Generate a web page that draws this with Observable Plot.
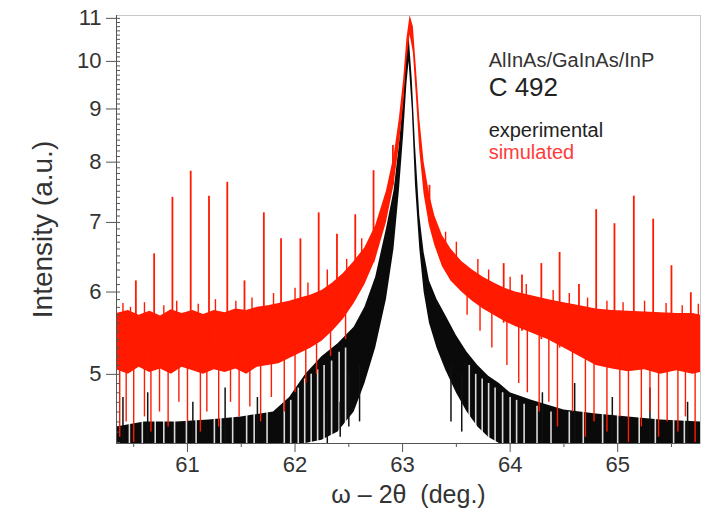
<!DOCTYPE html>
<html><head><meta charset="utf-8">
<script src="https://cdn.jsdelivr.net/npm/d3@7"></script>
<script src="https://cdn.jsdelivr.net/npm/@observablehq/plot@0.6"></script>
<style>
body{margin:0;background:#fff;}
#chart{width:708px;height:521px;}
</style></head><body><div id="chart"></div>
<script>
// ---- axis ticks ----
const xTicks = [61, 62, 63, 64, 65];
const xMinor = [60.5, 61.5, 62.5, 63.5, 64.5, 65.5];
const yTicks = [5, 6, 7, 8, 9, 10, 11];
const yMinor = d3.range(4.3, 11.05, 0.1);

// ---- simulated (red) dense noise band: lower / upper envelope ----
const redX  = [60.34,60.45,60.55,60.65,60.75,60.85,60.95,61.05,61.15,61.25,61.35,61.45,61.55,61.65,61.75,61.85,61.95,62.05,62.15,62.25,62.35,62.45,62.55,62.65,62.75,62.85,62.92,62.97,63.01,63.04,63.07,63.10,63.13,63.16,63.20,63.25,63.30,63.37,63.45,63.55,63.65,63.75,63.85,63.95,64.05,64.2,64.35,64.5,64.65,64.8,64.95,65.1,65.25,65.4,65.55,65.7,65.77];
const redHi = [5.72,5.76,5.70,5.75,5.69,5.77,5.72,5.76,5.71,5.76,5.73,5.78,5.76,5.80,5.82,5.85,5.88,5.92,5.96,6.02,6.12,6.25,6.42,6.62,6.95,7.5,8.1,8.8,9.6,10.5,11.07,10.8,9.8,8.8,8.0,7.45,7.1,6.8,6.6,6.42,6.3,6.2,6.12,6.05,6.0,5.95,5.9,5.86,5.82,5.78,5.76,5.75,5.74,5.73,5.72,5.72,5.70];
const redLo = [5.05,5.0,5.08,5.02,5.06,5.0,5.08,5.04,5.0,5.05,5.02,5.06,5.0,5.08,5.1,5.12,5.18,5.24,5.3,5.38,5.5,5.65,5.85,6.1,6.45,7.0,7.6,8.3,9.1,10.0,10.6,10.2,9.2,8.2,7.45,6.95,6.65,6.35,6.15,6.0,5.88,5.78,5.7,5.62,5.56,5.48,5.4,5.3,5.2,5.1,5.06,5.03,5.05,5.0,5.04,5.0,5.02];

// ---- simulated satellite peaks ----
const redPeakX    = [60.52,60.69,60.86,61.03,61.20,61.37,61.53,61.71,61.87,62.05,62.22,62.39,62.56,62.73,62.91,63.25,63.94,64.11,64.29,64.46,64.64,64.80,64.97,65.15,65.33,65.50,65.68];
const redPeakY    = [6.15,6.53,7.40,7.84,7.42,7.65,6.15,7.15,6.75,6.75,7.15,6.82,7.12,7.85,8.3,7.6,6.39,6.23,6.39,6.55,6.1,7.2,6.98,7.42,7.05,6.36,5.99];
const redPeakBase = [5.3,5.3,5.3,5.3,5.3,5.3,5.3,5.3,5.3,5.3,5.4,5.6,5.9,6.4,7.6,7.0,5.6,5.5,5.4,5.3,5.3,5.3,5.3,5.3,5.3,5.3,5.3];

// ---- simulated noise: short upward spikes above the band ----
const redUpX    = [60.4,60.47,60.6,60.78,60.9,61.1,61.26,61.45,61.6,61.8,62.0,62.12,62.3,62.48,62.62,63.4,63.5,63.7,63.8,64.0,64.15,64.4,64.55,64.72,64.9,65.05,65.25,65.45,65.6,65.75];
const redUpBase = [5.6,5.6,5.6,5.6,5.6,5.6,5.6,5.6,5.6,5.7,5.8,5.85,6.0,6.15,6.4,6.6,6.45,6.2,6.1,5.95,5.85,5.8,5.75,5.7,5.65,5.6,5.6,5.6,5.6,5.6];
const redUpY    = [5.85,5.8,5.86,5.82,5.88,5.84,5.9,5.88,5.92,5.98,6.05,6.12,6.3,6.45,6.75,6.85,6.7,6.45,6.3,6.2,6.1,6.02,5.98,5.92,5.88,5.86,5.88,5.85,5.82,5.84];

// ---- simulated noise: downward dips below the band ----
const redDipX   = [60.37,60.43,60.5,60.6,60.66,60.74,60.82,60.92,61.0,61.12,61.18,61.29,61.4,61.48,61.58,61.68,61.78,61.9,62.0,62.1,62.2,62.33,62.47,63.6,63.72,63.83,63.97,64.08,64.16,64.27,64.36,64.44,64.58,64.7,64.78,64.9,65.02,65.1,65.22,65.3,65.38,65.46,65.56,65.63,65.72];
const redDipTop = [5.3,5.3,5.3,5.3,5.3,5.3,5.3,5.3,5.3,5.3,5.3,5.3,5.3,5.3,5.3,5.3,5.3,5.4,5.4,5.5,5.5,5.7,5.8,6.1,6.0,5.9,5.8,5.7,5.6,5.6,5.5,5.5,5.4,5.4,5.3,5.3,5.3,5.3,5.3,5.3,5.3,5.3,5.3,5.3,5.3];
const redDipY   = [4.35,4.5,4.3,4.55,4.4,4.6,4.45,4.7,4.5,4.4,4.6,4.45,4.7,4.55,4.65,4.5,4.75,4.6,4.8,4.9,5.0,5.2,5.4,5.7,5.5,5.3,5.1,4.9,4.8,4.6,4.7,4.45,4.6,4.35,4.5,4.4,4.55,4.3,4.45,4.6,4.35,4.5,4.4,4.55,4.3];

// ---- experimental (black) band: lower / upper envelope ----
const blackX  = [60.34,60.6,60.9,61.2,61.5,61.8,61.95,62.1,62.25,62.4,62.55,62.65,62.75,62.85,62.92,62.97,63.01,63.04,63.06,63.09,63.12,63.16,63.2,63.25,63.32,63.4,63.5,63.6,63.7,63.8,63.9,64.0,64.2,64.5,64.8,65.1,65.4,65.77];
const blackHi = [4.45,4.5,4.5,4.52,4.55,4.6,4.75,5.0,5.2,5.35,5.55,5.8,6.2,6.9,7.5,8.3,9.2,10.2,10.6,9.6,8.3,7.1,6.55,6.15,5.9,5.7,5.45,5.25,5.1,4.98,4.9,4.8,4.72,4.62,4.58,4.55,4.52,4.5];
const blackLo = [4.29,4.29,4.29,4.29,4.29,4.29,4.29,4.29,4.32,4.4,4.6,4.9,5.3,5.9,6.6,7.5,8.5,9.5,10.0,9.0,7.6,6.6,6.0,5.6,5.3,5.05,4.8,4.6,4.45,4.35,4.29,4.29,4.29,4.29,4.29,4.29,4.29,4.29];

// ---- experimental: white gaps in the noise ----
const gapX   = [60.46,60.58,60.7,60.78,60.88,60.99,61.08,61.25,61.31,61.42,61.55,61.62,61.74,61.9,61.96,62.03,62.09,62.15,62.21,62.27,62.34,62.41,62.47,63.62,63.68,63.74,63.8,63.86,63.93,64.0,64.06,64.13,64.25,64.38,64.55,64.68,64.86,65.0,65.2,65.35,65.52,65.62];
const gapTop = [4.6,4.6,4.6,4.6,4.6,4.6,4.6,4.6,4.6,4.6,4.6,4.62,4.65,4.7,4.72,4.85,4.95,5.0,5.05,5.1,5.15,5.25,5.3,5.1,5.0,4.95,4.9,4.85,4.8,4.75,4.72,4.68,4.66,4.6,4.6,4.6,4.6,4.6,4.6,4.6,4.6,4.6];

// ---- experimental: single noise strokes ----
const blackStrokeX   = [60.4,60.63,61.05,61.35,61.65,62.3,62.42,62.5,62.6,63.45,63.55,64.3,64.6,64.95,65.3,65.65];
const blackStrokeLo  = [4.29,4.29,4.29,4.29,4.29,4.29,4.35,4.45,4.5,4.5,4.4,4.29,4.29,4.29,4.29,4.29];
const blackStrokeHi  = [4.75,4.8,4.7,4.85,4.75,4.6,4.7,5.0,5.1,5.1,5.0,4.8,4.9,4.75,4.85,4.7];

// ---- annotation ----
const noteX = 63.8;
const noteLines = ["AlInAs/GaInAs/InP", "C 492", "experimental", "simulated"];
const noteY = [10.02, 9.44, 8.58, 8.17];
const noteSize = [20, 26, 20, 20];
const noteColor = ["#333", "#222", "#222", "#ff3b3b"];

const RED = "#ff1a00";
const band = (xs, lo, hi) => xs.map((x, i) => ({x, lo: lo[i], hi: hi[i]}));
const rules = (xs, a, b) => xs.map((x, i) => ({x, a: a[i], b: b[i]}));
const notes = noteLines.map((t, i) => ({t, y: noteY[i], s: noteSize[i], c: noteColor[i]}));

const chart = Plot.plot({
  width: 708, height: 521,
  marginLeft: 116, marginRight: 8, marginTop: 15, marginBottom: 78,
  style: {fontFamily: "'Liberation Sans', Arial, sans-serif", fontSize: "22px", color: "#333", background: "#fff"},
  x: {domain: [60.34, 65.77]},
  y: {type: "log", domain: [4.29, 11.07]},
  marks: [
    Plot.areaY(band(blackX, blackLo, blackHi), {x: "x", y1: "lo", y2: "hi", fill: "#0a0a0a", curve: "linear"}),
    Plot.ruleX(rules(gapX, gapX.map(() => 4.29), gapTop), {x: "x", y1: "a", y2: "b", stroke: "#fff", strokeWidth: 1.6, strokeOpacity: 0.85}),
    Plot.ruleX(rules(blackStrokeX, blackStrokeLo, blackStrokeHi), {x: "x", y1: "a", y2: "b", stroke: "#111", strokeWidth: 1.5}),
    Plot.areaY(band(redX, redLo, redHi), {x: "x", y1: "lo", y2: "hi", fill: RED, curve: "linear"}),
    Plot.ruleX(rules(redDipX, redDipTop, redDipY), {x: "x", y1: "a", y2: "b", stroke: RED, strokeWidth: 1.4}),
    Plot.ruleX(rules(redUpX, redUpBase, redUpY), {x: "x", y1: "a", y2: "b", stroke: RED, strokeWidth: 1.4}),
    Plot.ruleX(rules(redPeakX, redPeakBase, redPeakY), {x: "x", y1: "a", y2: "b", stroke: RED, strokeWidth: 1.8}),
    Plot.frame({stroke: "#c8c8c8"}),
    Plot.ruleX([60.34], {stroke: "#555"}),
    Plot.ruleY([4.29], {stroke: "#555"}),
    Plot.axisX({ticks: xTicks, tickSize: 9, tickPadding: 4, tickFormat: d => String(d), label: null, stroke: "#555"}),
    Plot.axisX({ticks: xMinor, tickSize: 4, tickFormat: () => "", label: null, stroke: "#555"}),
    Plot.axisY({ticks: yTicks, tickSize: 10, tickPadding: 5, tickFormat: d => String(d), label: null, stroke: "#555"}),
    Plot.axisY({ticks: yMinor, tickSize: 4, dx: 4, tickFormat: () => "", label: null, stroke: "#555"}),
    Plot.text(["Intensity (a.u.)"], {frameAnchor: "left", dx: -73, rotate: -90, textAnchor: "middle", fontSize: 28, fill: "#333"}),
    Plot.text(["ω – 2θ  (deg.)"], {frameAnchor: "bottom", dy: 59, fontSize: 25, fill: "#333"}),
    Plot.text(notes, {x: noteX, y: "y", text: "t", fontSize: "s", fill: "c", textAnchor: "start"})
  ]
});
document.getElementById("chart").appendChild(chart);
</script>
</body></html>
